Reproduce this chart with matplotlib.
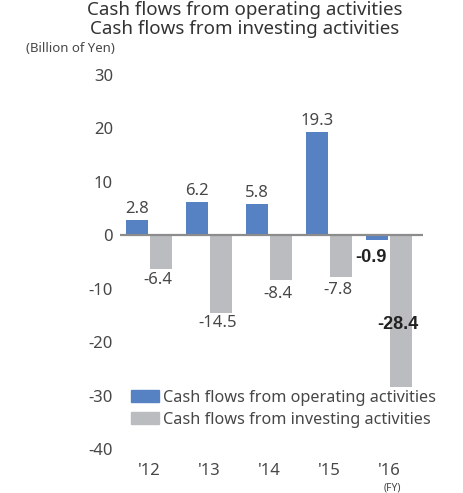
import matplotlib.pyplot as plt
import numpy as np
from matplotlib.patches import Patch

plt.rcParams['font.family'] = ['Noto Sans', 'DejaVu Sans']

years = ["'12", "'13", "'14", "'15", "'16"]
operating = [2.8, 6.2, 5.8, 19.3, -0.9]
investing = [-6.4, -14.5, -8.4, -7.8, -28.4]
op_labels = ['2.8', '6.2', '5.8', '19.3', '-0.9']
inv_labels = ['-6.4', '-14.5', '-8.4', '-7.8', '-28.4']
yticks = [30, 20, 10, 0, -10, -20, -30, -40]

blue = '#5681c3'
grey = '#bbbcbf'
txt = '#474747'
dark = '#222222'
bold_font = ['Liberation Sans', 'DejaVu Sans']

fig = plt.figure(figsize=(4.64, 4.93), dpi=100)
ax = fig.add_axes([120 / 464, 44 / 493, 303 / 464, 374 / 493])

x = np.arange(len(years))
w = 22 / 60
ax.bar(x - 0.2, operating, width=w, color=blue, zorder=2)
ax.bar(x + 0.2, investing, width=w, color=grey, zorder=2)
ax.axhline(0, color='#8c8c8c', lw=1.6, zorder=3)

ax.set_xlim(-0.483, 4.567)
ax.set_ylim(-40, 30)
ax.set_yticks(yticks)
ax.set_yticklabels([str(t) for t in yticks], fontsize=12, color=txt)
ax.set_xticks(x)
ax.set_xticklabels(years, fontsize=12, color=txt)
ax.tick_params(axis='both', length=0)
ax.tick_params(axis='y', pad=5)
ax.tick_params(axis='x', pad=10)
for s in ax.spines.values():
    s.set_visible(False)

# value labels above/below the bars; the FY16 figures are in bold
for i, (v, lab) in enumerate(zip(operating, op_labels)):
    if v >= 0:
        ax.text(i - 0.2, v + 0.6, lab, ha='center', va='bottom',
                fontsize=12, color=txt)
    else:
        ax.text(i - 0.3, v - 1.7, lab, ha='center', va='top',
                fontsize=13, color=dark, fontweight='bold', family=bold_font)
inv_pos = [-6.8, -15.0, -9.5, -8.7, -15.2]
for i, (p, lab) in enumerate(zip(inv_pos, inv_labels)):
    if i == 4:
        ax.text(i + 0.15, p, lab, ha='center', va='top', fontsize=13,
                color=dark, fontweight='bold', family=bold_font, zorder=4)
    else:
        ax.text(i + 0.15, p, lab, ha='center', va='top', fontsize=12,
                color=txt, zorder=4)

ax.legend(handles=[Patch(color=blue), Patch(color=grey)],
          labels=['Cash flows from operating activities',
                  'Cash flows from investing activities'],
          loc='upper left', bbox_to_anchor=(0.015, 0.176), frameon=False,
          fontsize=11.7, handlelength=1.7, handleheight=0.8,
          handletextpad=0.25, labelspacing=0.38, borderaxespad=0,
          labelcolor=txt)

fig.text(0.527, 1 - 10 / 493, 'Cash flows from operating activities',
         ha='center', va='center', fontsize=13.5, color='#333333')
fig.text(0.527, 1 - 29 / 493, 'Cash flows from investing activities',
         ha='center', va='center', fontsize=13.5, color='#333333')
fig.text(115 / 464, 1 - 49 / 493, '(Billion of Yen)', ha='right', va='center',
         fontsize=9.5, color=txt)
fig.text(392 / 464, 1 - 488 / 493, '(FY)', ha='center', va='center',
         fontsize=7.5, color=txt)

fig.savefig('out.png', dpi=100)
